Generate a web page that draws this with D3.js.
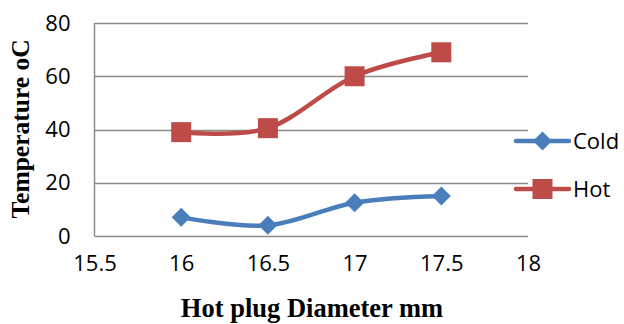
<!DOCTYPE html>
<html>
<head>
<meta charset="utf-8">
<script src="https://cdn.jsdelivr.net/npm/d3@7"></script>
<style>
  body { margin: 0; background: #fff; }
</style>
</head>
<body>
<div id="vis"></div>
<script>
var width = 624;
var height = 324;

// data
var diameters = [16, 16.5, 17, 17.5];
var coldTemps = [7, 4, 12.5, 15];
var hotTemps = [39, 40.5, 60, 69];
var xTicks = [15.5, 16, 16.5, 17, 17.5, 18];
var yTicks = [0, 20, 40, 60, 80];
var seriesNames = ["Cold", "Hot"];
var seriesColors = ["#4a7ebb", "#be4b48"];

var margin = {left: 94.5, right: 96, top: 23, bottom: 88};

var canvas = d3.select("#vis")
  .append("svg")
  .attr("width", width)
  .attr("height", height);

const x = d3.scaleLinear()
  .domain([15.5, 18])
  .range([margin.left, width - margin.right]);

const y = d3.scaleLinear()
  .domain([0, 80])
  .range([height - margin.bottom, margin.top]);

// horizontal grid lines
canvas.append("g")
  .selectAll("line")
  .data(yTicks)
  .enter()
  .append("line")
  .attr("x1", margin.left)
  .attr("x2", width - margin.right)
  .attr("y1", d => Math.round(y(d)) + 0.5)
  .attr("y2", d => Math.round(y(d)) + 0.5)
  .style("stroke", "#8c8c8c")
  .style("stroke-width", "1.5px");

// left axis line
canvas.append("line")
  .attr("x1", margin.left)
  .attr("x2", margin.left)
  .attr("y1", y(80))
  .attr("y2", y(0))
  .style("stroke", "#8c8c8c")
  .style("stroke-width", "1.5px");

const yAxis = d3.axisLeft(y).tickValues(yTicks).tickSize(0).tickPadding(24);
canvas.append("g")
  .attr("transform", `translate(${margin.left}, 0)`)
  .call(yAxis)
  .call(g => g.select(".domain").remove())
  .selectAll("text")
  .style("font-family", "'Open Sans', sans-serif")
  .style("font-size", "22px")
  .style("fill", "#000");

const xAxis = d3.axisBottom(x).tickValues(xTicks).tickSize(0).tickPadding(19)
  .tickFormat(d => d);
canvas.append("g")
  .attr("transform", `translate(0, ${y(0)})`)
  .call(xAxis)
  .call(g => g.select(".domain").remove())
  .selectAll("text")
  .style("font-family", "'Open Sans', sans-serif")
  .style("font-size", "22px")
  .style("fill", "#000");

// series
var series = [coldTemps, hotTemps];
var line = d3.line()
  .x((d, i) => x(diameters[i]))
  .y(d => y(d))
  .curve(d3.curveCardinal);

series.forEach(function (vals, s) {
  canvas.append("path")
    .attr("d", line(vals))
    .style("fill", "none")
    .style("stroke", seriesColors[s])
    .style("stroke-width", "4.5px")
    .style("stroke-linecap", "round");
});

function marker(g, s, cx, cy) {
  if (s === 0) {
    g.append("path")
      .attr("d", "M0,-9.5L9.5,0L0,9.5L-9.5,0Z")
      .attr("transform", `translate(${cx}, ${cy})`)
      .style("fill", seriesColors[s]);
  } else {
    g.append("rect")
      .attr("x", cx - 10)
      .attr("y", cy - 10)
      .attr("width", 20)
      .attr("height", 20)
      .style("fill", seriesColors[s]);
  }
}

series.forEach(function (vals, s) {
  var g = canvas.append("g");
  vals.forEach((v, i) => marker(g, s, x(diameters[i]), y(v)));
});

// legend
var legend = canvas.append("g").attr("class", "legend");
var legendY = [141, 189];
seriesNames.forEach(function (name, s) {
  legend.append("line")
    .attr("x1", 516)
    .attr("x2", 569)
    .attr("y1", legendY[s])
    .attr("y2", legendY[s])
    .style("stroke", seriesColors[s])
    .style("stroke-width", "4.5px")
    .style("stroke-linecap", "round");
  marker(legend, s, 542.5, legendY[s]);
  legend.append("text")
    .attr("x", 573)
    .attr("y", legendY[s])
    .attr("dy", "0.35em")
    .style("font-family", "'Open Sans', sans-serif")
    .style("font-size", "22px")
    .style("fill", "#000")
    .text(name);
});

// axis titles
canvas.append("text")
  .attr("x", 312)
  .attr("y", 317)
  .attr("text-anchor", "middle")
  .style("font-family", "'Liberation Serif', 'Times New Roman', serif")
  .style("font-weight", "bold")
  .style("font-size", "26.5px")
  .text("Hot plug Diameter mm");

canvas.append("text")
  .attr("transform", "translate(29, 129) rotate(-90)")
  .attr("text-anchor", "middle")
  .style("font-family", "'Liberation Serif', 'Times New Roman', serif")
  .style("font-weight", "bold")
  .style("font-size", "25.5px")
  .text("Temperature oC");
</script>
</body>
</html>
